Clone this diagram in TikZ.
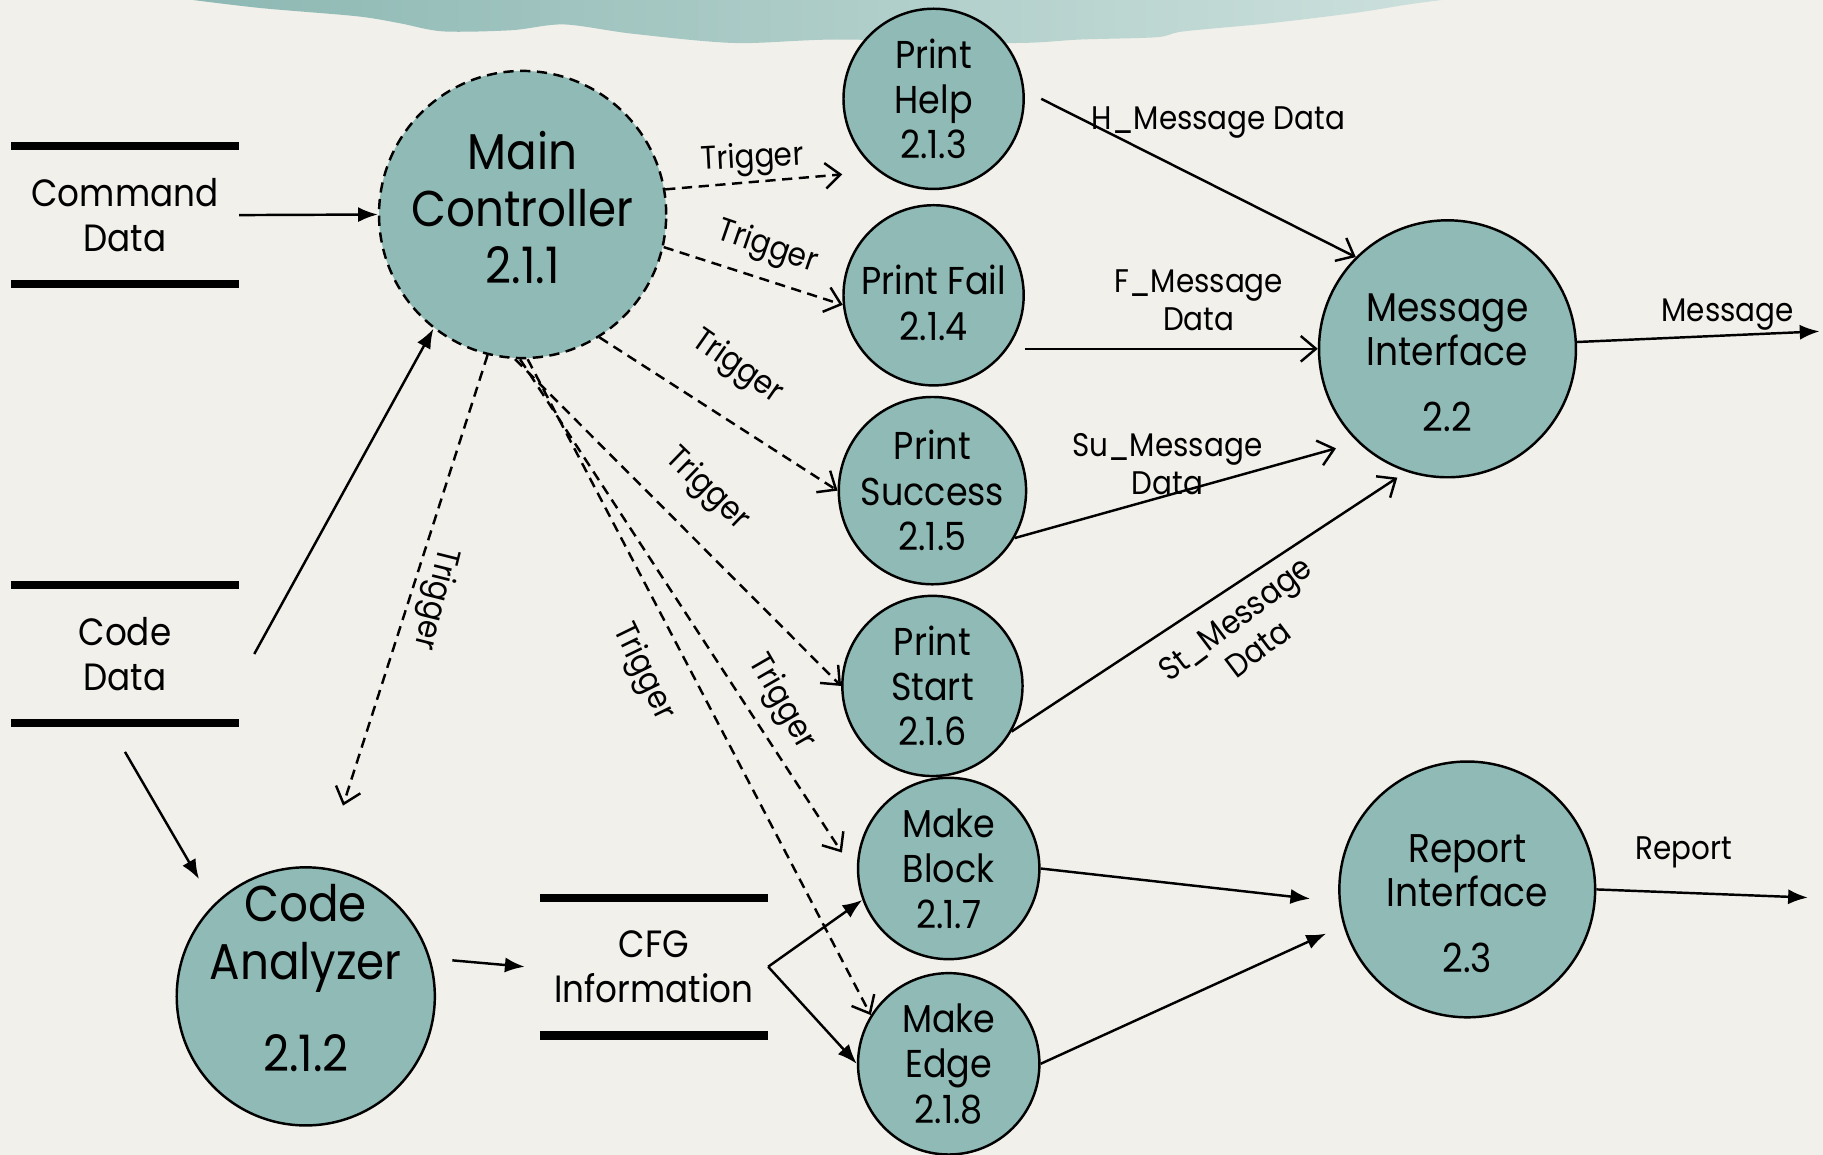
\documentclass[tikz,border=0pt]{standalone}
\usepackage{fontspec}
\setmainfont[FakeStretch=0.9]{Poppins}
\usetikzlibrary{arrows.meta}
\definecolor{paper}{RGB}{242,240,235}
\definecolor{procfill}{RGB}{143,186,181}
\definecolor{wavel}{RGB}{141,184,179}
\definecolor{waver}{RGB}{204,224,220}
\tikzset{
  proc/.style={circle,draw,fill=procfill,line width=0.6pt,align=center,inner sep=0pt},
  bigproc/.style={proc,font=\fontsize{12.3}{14}\selectfont},
  smallproc/.style={proc,minimum size=1.55cm,font=\fontsize{9.5}{11.1}\selectfont},
  ifproc/.style={proc,minimum size=2.21cm,font=\fontsize{9.8}{10.8}\selectfont},
  store/.style={align=center,minimum width=1.95cm,minimum height=1.17cm,inner sep=0pt,font=\fontsize{9.3}{11.1}\selectfont},
  bar/.style={line width=2pt},
  flow/.style={draw,line width=0.6pt,-{Latex[length=1.7mm,width=1.3mm]}},
  msgflow/.style={draw,line width=0.6pt,-{Straight Barb[length=1.3mm,width=2.2mm]}},
  trig/.style={msgflow,dash pattern=on 2.5pt off 1.6pt},
  lbl/.style={font=\fontsize{8}{9.2}\selectfont,align=center,inner sep=0pt}
}
\begin{document}
\begin{tikzpicture}
  \path[use as bounding box,fill=paper] (0,0) rectangle (15.68,-9.93);
  \shade[left color=wavel,right color=waver] plot[smooth] coordinates {(1.66,0) (2.25,-0.07) (3.07,-0.14) (3.44,-0.20) (3.81,-0.27) (4.40,-0.26) (4.85,-0.21) (5.44,-0.29) (6.32,-0.37) (7.21,-0.34) (8.70,-0.37) (9.29,-0.34) (9.95,-0.32) (10.18,-0.27) (10.92,-0.20) (11.66,-0.11) (12.10,-0.04) (12.40,0)} -- (12.40,0.1) -- (1.66,0.1) -- cycle;

  % data stores
  \node[store] (cmd) at (1.075,-1.85) {Command\\Data};
  \node[store] (code) at (1.075,-5.625) {Code\\Data};
  \node[store] (cfg) at (5.625,-8.315) {CFG\\Information};
  \foreach \s in {cmd,code,cfg} {
    \draw[bar] (\s.north west) -- (\s.north east);
    \draw[bar] (\s.south west) -- (\s.south east);
  }

  % processes
  \node[bigproc,minimum size=2.47cm,dash pattern=on 2.5pt off 1.6pt] (main) at (4.495,-1.845) {Main\\Controller\\2.1.1\rule[-3.5pt]{0pt}{3.5pt}};
  \node[bigproc,minimum size=2.22cm,inner sep=-6pt] (ana) at (2.63,-8.57) {Code\\Analyzer\\[0.7em]2.1.2\rule[-9pt]{0pt}{9pt}};
  \node[smallproc] (help) at (8.03,-0.85) {Print\\Help\\2.1.3};
  \node[smallproc] (fail) at (8.03,-2.54) {\rule{0pt}{1.15em}Print Fail\\2.1.4};
  \node[smallproc] (succ) at (8.02,-4.22) {Print\\Success\\2.1.5};
  \node[smallproc] (start) at (8.02,-5.90) {Print\\Start\\2.1.6};
  \node[smallproc,minimum size=1.56cm] (block) at (8.16,-7.47) {Make\\Block\\2.1.7};
  \node[smallproc,minimum size=1.56cm] (edge) at (8.16,-9.15) {Make\\Edge\\2.1.8};
  \node[ifproc] (msg) at (12.45,-3.00) {\rule{0pt}{1.4em}Message\\Interface\\[0.55em]2.2};
  \node[ifproc,minimum size=2.20cm] (rep) at (12.62,-7.65) {\rule{0pt}{1.4em}Report\\Interface\\[0.55em]2.3};
  \coordinate (msgout) at (15.65,-2.85);
  \coordinate (repout) at (15.55,-7.72);

  % inputs
  \draw[flow] (cmd.east) -- (main.west);
  \draw[flow] ([xshift=0.13cm]code.east) -- (main.232);
  \draw[flow,shorten >=0.25cm] ([yshift=-0.25cm]code.south) -- (ana.135);

  % triggers
  \draw[trig] (main.10) -- ([yshift=-0.65cm]help.west);
  \draw[trig] (main.-13) -- (fail.186);
  \draw[trig] (main.-58) -- (succ.west);
  \draw[trig] (main.-93) -- (start.west);
  \draw[trig] (main.-91) -- ([xshift=-0.14cm]block.170);
  \draw[trig] (main.-88) -- (edge.148);
  \draw[trig] (main.256) -- ([shift={(0.32,0.52)}]ana.north);
  \node[lbl,rotate=3] (t1) at (6.47,-1.37) {Trigger};
  \node[lbl,rotate=-19] (t2) at (6.60,-2.13) {Trigger};
  \node[lbl,rotate=-35] (t3) at (6.34,-3.16) {Trigger};
  \node[lbl,rotate=-44] (t4) at (6.08,-4.21) {Trigger};
  \node[lbl,rotate=-60] (t5) at (6.72,-6.04) {Trigger};
  \node[lbl,rotate=-64] (t6) at (5.53,-5.78) {Trigger};
  \node[lbl,rotate=-104] (t7) at (3.74,-5.15) {Trigger};

  % messages
  \draw[msgflow] ([xshift=0.14cm]help.east) -- (msg.135);
  \draw[msgflow] (fail.east |- msg.west) -- (msg.west);
  \draw[msgflow] (succ.-30) -- ([shift={(-0.13,-0.11)}]msg.222);
  \draw[msgflow] (start.-30) -- ([shift={(-0.05,-0.06)}]msg.250);
  \draw[flow] (msg.3) -- (msgout);
  \node[lbl] (hm) at (10.48,-1.05) {H\_Message Data};
  \node[lbl] (fm) at (10.31,-2.58) {F\_Message\\Data};
  \node[lbl] (sum) at (10.04,-3.99) {Su\_Message\\Data};
  \node[lbl,rotate=37] (stm) at (10.72,-5.45) {St\_Message\\Data};
  \node[lbl] (mo) at (14.86,-2.71) {Message};

  % cfg and report
  \draw[flow] ([xshift=0.14cm,yshift=0.31cm]ana.east) -- ([xshift=-0.13cm]cfg.west);
  \draw[flow] (cfg.east) -- (block.200);
  \draw[flow] (cfg.east) -- (edge.west);
  \draw[flow] (block.east) -- ([shift={(-0.24,-0.08)}]rep.west);
  \draw[flow] (edge.east) -- ([xshift=-0.17cm]rep.200);
  \draw[flow] (rep.east) -- (repout);
  \node[lbl] (ro) at (14.48,-7.33) {Report};
\end{tikzpicture}
\end{document}
